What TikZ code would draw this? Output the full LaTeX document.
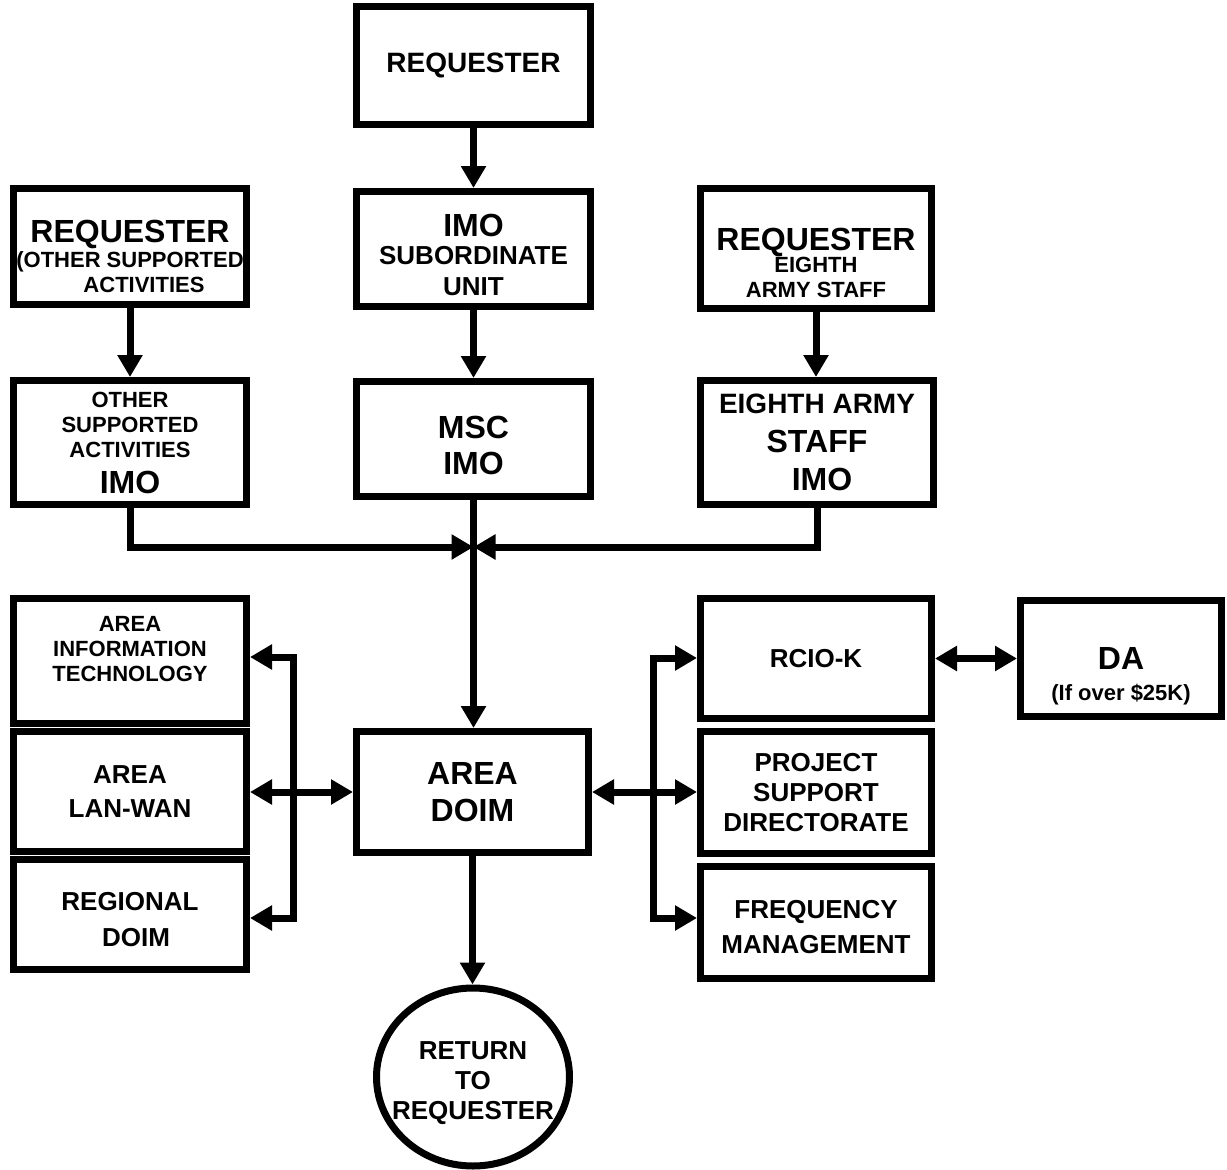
\documentclass[tikz,border=0pt]{standalone}
\usepackage{fontspec}
\setmainfont{Liberation Sans}
\usetikzlibrary{arrows.meta,shapes.geometric}

\newcommand\sizeA{\fontsize{32}{36}\selectfont}
\newcommand\sizeB{\fontsize{26}{30}\selectfont}
\newcommand\sizeC{\fontsize{22}{25}\selectfont}

\begin{document}
\begin{tikzpicture}[
	x=1pt,y=-1pt,
	unit/.style={rectangle,draw=black,line width=7pt,inner sep=0pt,align=center,font=\bfseries\sizeB,minimum width=233pt,minimum height=118pt},
	back/.style={ellipse,draw=black,line width=7pt,inner sep=0pt,minimum width=193pt,minimum height=178pt},
	flow/.style={draw=black,line width=7pt,>={Triangle[length=22pt,width=24pt]}}
]

	\fill[white] (0,0) rectangle (1227,1170);
	\useasboundingbox (0,0) rectangle (1227,1170);

	% requesters and their IMOs
	\node[unit,minimum width=234pt,font=\bfseries\fontsize{28}{32}\selectfont] (req) at (473.5,65.5) {REQUESTER};
	\node[unit,minimum width=234pt,minimum height=115pt] (imosub) at (473.5,249) {\mbox{}\\[5pt] {\sizeA IMO}\\[-2pt] SUBORDINATE\\[1pt] UNIT};
	\node[unit,minimum width=234pt,minimum height=115pt,font=\bfseries\sizeA] (msc) at (473.5,439) {\mbox{}\\ MSC\\ IMO};

	\node[unit,minimum height=116pt,font=\bfseries\sizeC] (reqother) at (130,246.5) {\mbox{}\\[18pt] {\sizeA REQUESTER}\\ \makebox[0pt]{(OTHER SUPPORTED}\\ \hspace*{28pt}ACTIVITIES};
	\node[unit,minimum height=124pt,font=\bfseries\sizeC] (osaimo) at (130,442.5) {OTHER\\ SUPPORTED\\ ACTIVITIES\\[11pt] {\sizeA IMO}};

	\node[unit,minimum width=231pt,minimum height=120pt,font=\bfseries\sizeC] (reqeighth) at (816,248.5) {\mbox{}\\[27pt] {\sizeA REQUESTER}\\[-3pt] EIGHTH\\ ARMY STAFF};
	\node[unit,minimum height=124pt,font=\bfseries\sizeA] (eaimo) at (817,442.5) {{\fontsize{28}{32}\selectfont EIGHTH ARMY}\\[3pt] STAFF\\[2pt] \hspace*{10pt}IMO};

	\coordinate (join) at (473.5,547);

	% area level
	\node[unit,minimum height=125pt,font=\bfseries\sizeC] (areait) at (130,661) {AREA\\ INFORMATION\\ TECHNOLOGY\\ \mbox{}};
	\node[unit,minimum height=120pt] (lanwan) at (130,791.5) {AREA\\[4pt] LAN-WAN};
	\node[unit,minimum height=110pt] (regional) at (130,914.5) {\mbox{}\\[-1pt] REGIONAL\\[6pt] \hspace*{12pt}DOIM};

	\node[unit,minimum width=232pt,minimum height=121pt,font=\bfseries\sizeA] (doim) at (472.5,792) {AREA\\[1pt] DOIM};

	\node[unit,minimum width=231pt,minimum height=120pt] (rcio) at (816,658.5) {RCIO-K};
	\node[unit,minimum width=231pt,minimum height=122pt] (psd) at (816,792.5) {PROJECT\\ SUPPORT\\ DIRECTORATE};
	\node[unit,minimum width=231pt,minimum height=112pt] (freq) at (816,922.5) {\mbox{}\\[-3pt] FREQUENCY\\[5pt] MANAGEMENT};

	\node[unit,minimum width=201pt,minimum height=116pt,font=\bfseries\sizeA,
		label={[font=\bfseries\sizeC,yshift=-36pt]center:(If over \$25K)}] (da) at (1121,658.5) {DA};

	\node[back,label={[align=center,font=\bfseries\sizeB,yshift=-6pt]center:RETURN\\ TO\\ REQUESTER}] (ret) at (473,1077) {};

	\coordinate (ltop) at (293,657);
	\coordinate (lbot) at (293,918);
	\coordinate (rtop) at (653,658);
	\coordinate (rbot) at (653,918);

	% connectors
	\draw[flow,->] (req.south) -- (imosub.north);
	\draw[flow,->] (imosub.south) -- (msc.north);
	\draw[flow,->] (reqother.south) -- (osaimo.north);
	\draw[flow,->] (reqeighth.south) -- (reqeighth.south |- eaimo.north);

	\draw[flow,->] (osaimo.south) |- (join);
	\draw[flow,->] (eaimo.south) |- (join);
	\draw[flow,->] (msc.south) -- (msc.south |- doim.north);

	\draw[flow,<->] (doim.west) -- (doim.west -| lanwan.east);
	\draw[flow,<->] (areait.east |- ltop) -- (ltop) -- (lbot) -- (regional.east |- lbot);

	\draw[flow,<->] (doim.east) -- (doim.east -| psd.west);
	\draw[flow,<->] (rcio.west |- rtop) -- (rtop) -- (rbot) -- (freq.west |- rbot);
	\draw[flow,<->] (rcio.east) -- (rcio.east -| da.west);

	\draw[flow,->] (doim.south) -- (doim.south |- ret.north);

\end{tikzpicture}
\end{document}
